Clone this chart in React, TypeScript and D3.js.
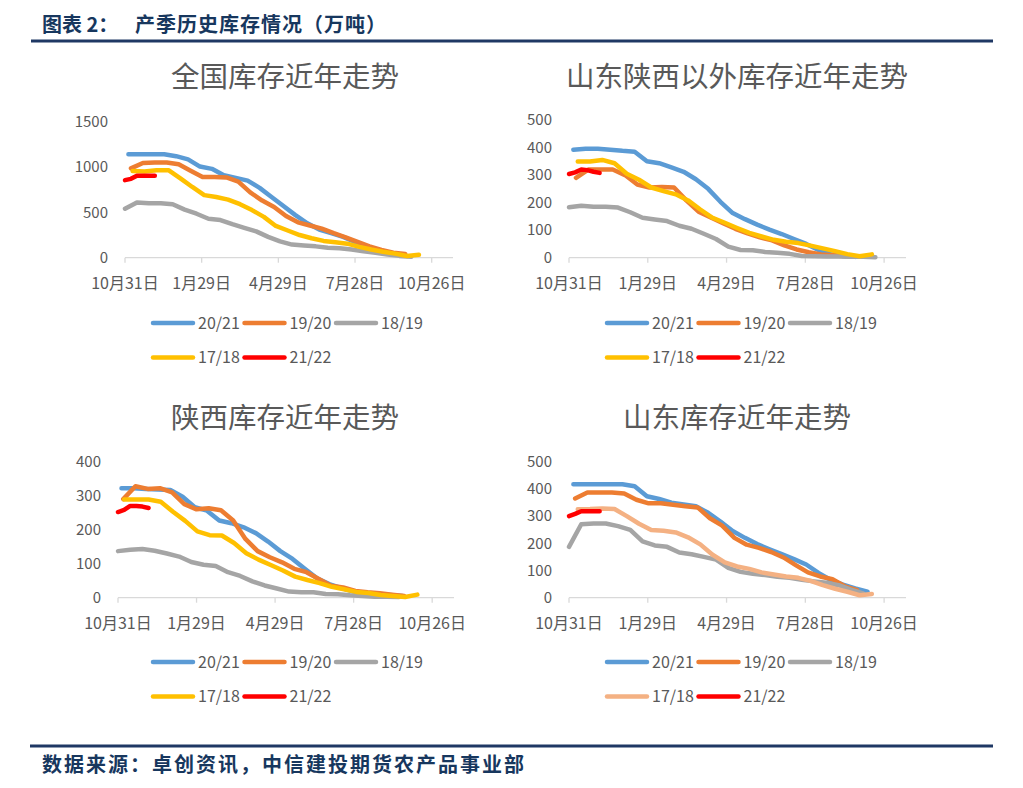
import React from "react";
import * as d3 from "d3";

// day offsets from 10月31日, ticks every 90 days
const tickDays = [0, 90, 180, 270, 360];
const tickLabels = ["10月31日", "1月29日", "4月29日", "7月28日", "10月26日"];
const seasons = ["20/21", "19/20", "18/19", "17/18", "21/22"];

// 全国 (start day, step in days, values 万吨)
const qgStart = [4, 7, 0, 9, 0];
const qgStep = [14, 14, 14, 14, 7];
const qg2021 = [1140, 1140, 1140, 1140, 1120, 1085, 1005, 980, 910, 880, 850, 770, 670, 570, 470, 380, 310, 270, 230, 175, 120, 75, 50, 30];
const qg1920 = [985, 1045, 1050, 1050, 1030, 960, 890, 890, 885, 840, 720, 630, 560, 460, 390, 355, 320, 270, 225, 175, 125, 85, 55, 40];
const qg1819 = [540, 610, 600, 600, 590, 530, 485, 430, 415, 370, 330, 290, 230, 180, 145, 135, 125, 110, 105, 90, 70, 55, 35, 20, 10];
const qg1718 = [955, 950, 965, 965, 875, 780, 690, 670, 640, 590, 525, 450, 350, 300, 250, 215, 185, 170, 155, 120, 90, 65, 45, 18, 33];
const qg2122 = [855, 870, 905, 905, 905, 905];

// 山东陕西以外
const ywStart = [5, 8, 0, 10, 0];
const ywStep = [14, 14, 14, 14, 7];
const yw2021 = [392, 396, 396, 392, 388, 385, 350, 343, 328, 312, 285, 250, 203, 162, 140, 120, 102, 86, 68, 50, 28, 13, 6, 3];
const yw1920 = [290, 320, 320, 320, 300, 266, 255, 257, 255, 208, 167, 146, 125, 105, 88, 74, 63, 45, 30, 20, 12, 9, 6];
const yw1819 = [183, 189, 185, 185, 182, 165, 145, 139, 133, 116, 105, 87, 68, 40, 28, 27, 21, 18, 14, 6, 5, 4, 4, 3, 3, 2];
const yw1718 = [349, 349, 355, 343, 305, 283, 255, 242, 230, 208, 175, 145, 127, 108, 90, 77, 65, 58, 53, 44, 34, 24, 13, 5, 12];
const yw2122 = [304, 310, 320, 318, 312, 308];

// 陕西
const sxStart = [4, 6, 0, 7, 0];
const sxStep = [14, 14, 14, 14, 7];
const sx2021 = [322, 322, 320, 318, 317, 297, 266, 256, 227, 219, 207, 190, 165, 137, 114, 85, 57, 40, 28, 18, 13, 10, 8, 5];
const sx1920 = [290, 328, 320, 322, 310, 275, 260, 263, 257, 227, 173, 137, 119, 104, 85, 75, 55, 35, 30, 20, 16, 13, 9, 5];
const sx1819 = [137, 141, 143, 138, 130, 121, 105, 97, 93, 75, 64, 48, 36, 27, 18, 16, 16, 11, 10, 7, 5, 3, 3, 2];
const sx1718 = [289, 289, 289, 282, 253, 226, 195, 184, 183, 161, 131, 112, 96, 80, 62, 52, 43, 32, 25, 17, 14, 8, 5, 2, 9];
const sx2122 = [252, 258, 270, 270, 268, 264];

// 山东
const sdStart = [5, 7, 0, 10, 0];
const sdStep = [14, 14, 14, 14, 7];
const sd2021 = [417, 417, 417, 417, 417, 410, 373, 363, 349, 343, 336, 312, 280, 245, 220, 197, 178, 160, 142, 122, 91, 65, 48, 34, 22];
const sd1920 = [365, 387, 387, 387, 383, 360, 347, 347, 342, 336, 332, 292, 265, 220, 195, 183, 168, 148, 120, 93, 78, 68, 42, 28];
const sd1819 = [187, 270, 273, 273, 263, 249, 207, 192, 187, 166, 160, 150, 140, 110, 95, 88, 83, 77, 73, 66, 60, 55, 46, 30, 16];
const sd1718 = [325, 326, 328, 326, 300, 272, 249, 246, 240, 222, 196, 158, 130, 115, 106, 93, 85, 78, 73, 62, 46, 33, 22, 9, 14];
const sd2122 = [300, 308, 318, 318, 318, 318];

const COLORS = ["#5B9BD5", "#ED7D31", "#A5A5A5", "#FFC000", "#FF0000"];
const COLORS_SD = ["#5B9BD5", "#ED7D31", "#A5A5A5", "#F4B183", "#FF0000"];
const FONT = "'Noto Sans CJK SC', 'Noto Sans', sans-serif";
const GREY = "#595959";

type PanelProps = {
  title: string;
  cx: number;
  titleY: number;
  x0: number;
  x1: number;
  yBase: number;
  yTop: number;
  yMax: number;
  yStep: number;
  starts: number[];
  steps: number[];
  data: number[][];
  colors: string[];
  legendX: number;
  legendY: number;
};

function Panel(p: PanelProps) {
  const x = d3.scaleLinear().domain([0, 385]).range([p.x0, p.x1]);
  const y = d3.scaleLinear().domain([0, p.yMax]).range([p.yBase, p.yTop]);
  const yTicks = d3.range(0, p.yMax + 1, p.yStep);
  const line = d3
    .line<[number, number]>()
    .x((d) => x(d[0]))
    .y((d) => y(d[1]));

  return (
    <g>
      <text x={p.cx} y={p.titleY} textAnchor="middle" fontSize={28.5} fill={GREY} fontFamily={FONT}>
        {p.title}
      </text>
      {yTicks.map((t) => (
        <text key={t} x={p.x0 - 17} y={y(t)} dy="0.35em" textAnchor="end" fontSize={15} fill={GREY} fontFamily={FONT}>
          {t}
        </text>
      ))}
      <line x1={p.x0} x2={p.x1} y1={p.yBase} y2={p.yBase} stroke="#D9D9D9" strokeWidth={1.3} />
      {tickDays.map((d, i) => (
        <g key={d}>
          <line x1={x(d)} x2={x(d)} y1={p.yBase} y2={p.yBase + 5} stroke="#D9D9D9" strokeWidth={1.3} />
          <text x={x(d)} y={p.yBase + 31} textAnchor="middle" fontSize={16} fill={GREY} fontFamily={FONT}>
            {tickLabels[i]}
          </text>
        </g>
      ))}
      {p.data.map((vals, k) => {
        const pts = vals.map((v, i) => [p.starts[k] + i * p.steps[k], v] as [number, number]);
        return (
          <path
            key={k}
            d={line(pts) || ""}
            fill="none"
            stroke={p.colors[k]}
            strokeWidth={4.5}
            strokeLinejoin="round"
            strokeLinecap="round"
          />
        );
      })}
      {seasons.map((s, k) => {
        const lx = p.legendX + (k % 3) * 91.5;
        const ly = p.legendY + Math.floor(k / 3) * 34.5;
        return (
          <g key={s}>
            <line x1={lx} x2={lx + 40} y1={ly} y2={ly} stroke={p.colors[k]} strokeWidth={4.5} strokeLinecap="round" />
            <text x={lx + 45} y={ly} dy="0.35em" fontSize={16} fill={GREY} fontFamily={FONT}>
              {s}
            </text>
          </g>
        );
      })}
    </g>
  );
}

export default function App() {
  const navy = "#1F3864";
  const textBlue = "#17375E";
  return (
    <svg width={1023} height={788} style={{ position: "absolute", left: 0, top: 0, background: "#fff" }}>
      <rect width={1023} height={788} fill="#fff" />
      <text x={42} y={32} fontSize={20} fontWeight={700} fill={textBlue} fontFamily={FONT}>
        图表 2：
      </text>
      <text x={135} y={32} fontSize={20} fontWeight={700} fill={textBlue} fontFamily={FONT} letterSpacing={1}>
        产季历史库存情况（万吨）
      </text>
      <line x1={31} x2={993} y1={41} y2={41} stroke={navy} strokeWidth={3} />

      <Panel
        title="全国库存近年走势"
        cx={285}
        titleY={87}
        x0={125}
        x1={453}
        yBase={257.7}
        yTop={121.7}
        yMax={1500}
        yStep={500}
        starts={qgStart}
        steps={qgStep}
        data={[qg2021, qg1920, qg1819, qg1718, qg2122]}
        colors={COLORS}
        legendX={153}
        legendY={323}
      />
      <Panel
        title="山东陕西以外库存近年走势"
        cx={737}
        titleY={87}
        x0={569}
        x1={906}
        yBase={257.7}
        yTop={120}
        yMax={500}
        yStep={100}
        starts={ywStart}
        steps={ywStep}
        data={[yw2021, yw1920, yw1819, yw1718, yw2122]}
        colors={COLORS}
        legendX={607}
        legendY={323}
      />
      <Panel
        title="陕西库存近年走势"
        cx={285}
        titleY={428}
        x0={118}
        x1={454}
        yBase={597.7}
        yTop={461.7}
        yMax={400}
        yStep={100}
        starts={sxStart}
        steps={sxStep}
        data={[sx2021, sx1920, sx1819, sx1718, sx2122]}
        colors={COLORS}
        legendX={153}
        legendY={662}
      />
      <Panel
        title="山东库存近年走势"
        cx={737}
        titleY={428}
        x0={569}
        x1={906}
        yBase={597.7}
        yTop={461.7}
        yMax={500}
        yStep={100}
        starts={sdStart}
        steps={sdStep}
        data={[sd2021, sd1920, sd1819, sd1718, sd2122]}
        colors={COLORS_SD}
        legendX={607}
        legendY={662}
      />

      <line x1={30} x2={993} y1={746} y2={746} stroke={navy} strokeWidth={3} />
      <text x={42} y={772} fontSize={20} fontWeight={700} fill={textBlue} fontFamily={FONT} letterSpacing={2}>
        数据来源：卓创资讯，中信建投期货农产品事业部
      </text>
    </svg>
  );
}
